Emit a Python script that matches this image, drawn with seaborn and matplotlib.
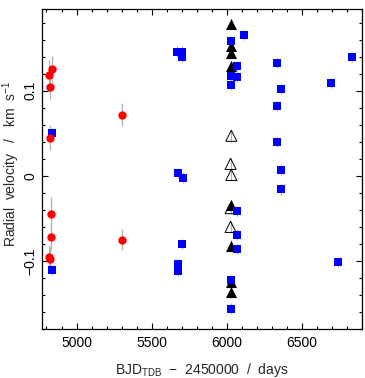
import matplotlib
matplotlib.use("Agg")
import matplotlib.pyplot as plt
from matplotlib.ticker import MultipleLocator, FixedLocator
import seaborn as sns
import pandas as pd

# ---- data ----
red_bjd = [4836, 4820, 4825, 4823, 5303, 4831, 4831, 4820, 4825, 5303]
red_rv  = [0.125, 0.118, 0.104, 0.045, 0.072, -0.045, -0.072, -0.095, -0.098, -0.075]
red_err = [0.016, 0.018, 0.014, 0.015, 0.013, 0.020, 0.015, 0.014, 0.014, 0.012]

blue_bjd = [4836, 4836, 5668, 5705, 5705, 5676, 5709, 5702, 5678, 5678,
            6025, 6114, 6068, 6028, 6068, 6028, 6068, 6068, 6068, 6028, 6028,
            6336, 6363, 6336, 6336, 6363, 6363, 6695, 6833, 6739]
blue_rv  = [0.050, -0.111, 0.146, 0.146, 0.140, 0.003, -0.002, -0.080, -0.104, -0.112,
            0.158, 0.165, 0.129, 0.117, 0.116, 0.107, -0.041, -0.069, -0.086, -0.122, -0.156,
            0.133, 0.102, 0.082, 0.040, 0.007, -0.016, 0.109, 0.140, -0.101]
blue_err = [0.006] * len(blue_bjd)

fill_bjd = [6025, 6028, 6030, 6025, 6025, 6028, 6030, 6030]
fill_rv  = [0.178, 0.153, 0.144, 0.129, -0.034, -0.082, -0.125, -0.137]
fill_err = [0.006] * len(fill_bjd)

open_bjd = [6030, 6025, 6030, 6025, 6025]
open_rv  = [0.047, 0.014, 0.001, -0.038, -0.060]
open_err = [0.007] * len(open_bjd)

x_ticks = [5000, 5500, 6000, 6500]
y_ticks = [-0.1, 0.0, 0.1]
y_ticklabels = ["\u22120.1", "0", "0.1"]

# ---- style ----
sns.set_style("ticks")
plt.rcParams["font.family"] = ["Liberation Sans", "DejaVu Sans"]
plt.rcParams["mathtext.default"] = "regular"

fig = plt.figure(figsize=(3.65, 3.78), dpi=100)
ax = fig.add_axes([0.115, 0.1296, 0.877, 0.8466])

groups = [
    (fill_bjd, fill_rv, fill_err, dict(marker="^", s=64, color="black", linewidth=0)),
    (open_bjd, open_rv, open_err, dict(marker="^", s=64, color="black", facecolor="none",
                                       edgecolor="black", linewidth=0.7)),
    (blue_bjd, blue_rv, blue_err, dict(marker="s", s=26, color="#0000ff", linewidth=0)),
    (red_bjd, red_rv, red_err, dict(marker="o", s=36, color="#ff0000", linewidth=0)),
]

for bjd, rv, err, kw in groups:
    df = pd.DataFrame({"bjd": bjd, "rv": rv, "err": err})
    ax.errorbar(df["bjd"], df["rv"], yerr=df["err"], fmt="none",
                ecolor="#b0b0b0", elinewidth=0.9, capsize=0, zorder=1)
for bjd, rv, err, kw in groups:
    df = pd.DataFrame({"bjd": bjd, "rv": rv})
    sns.scatterplot(data=df, x="bjd", y="rv", ax=ax, zorder=3, legend=False, **kw)

ax.set_xlim(4770, 6900)
ax.set_ylim(-0.18, 0.196)

ax.xaxis.set_major_locator(FixedLocator(x_ticks))
ax.xaxis.set_minor_locator(MultipleLocator(100))
ax.yaxis.set_major_locator(FixedLocator(y_ticks))
ax.yaxis.set_minor_locator(MultipleLocator(0.02))
ax.set_yticklabels(y_ticklabels, rotation=90, va="center")

ax.tick_params(which="both", direction="in", top=True, right=True, width=0.8,
               colors="black", labelsize=10)
ax.tick_params(which="major", length=4.5)
ax.tick_params(axis="x", which="major", pad=5)
ax.tick_params(axis="y", which="major", pad=3)
ax.tick_params(which="minor", length=2.3)
for sp in ax.spines.values():
    sp.set_linewidth(0.9)
    sp.set_color("black")

ax.set_xlabel("BJD$_{TDB}$  \u2212  2450000  /  days", fontsize=10, labelpad=8)
ax.set_ylabel("Radial  velocity   /   km  s$^{-1}$", fontsize=10)
ax.yaxis.set_label_coords(-0.062, 0.515)

fig.savefig("out.png", dpi=100)
